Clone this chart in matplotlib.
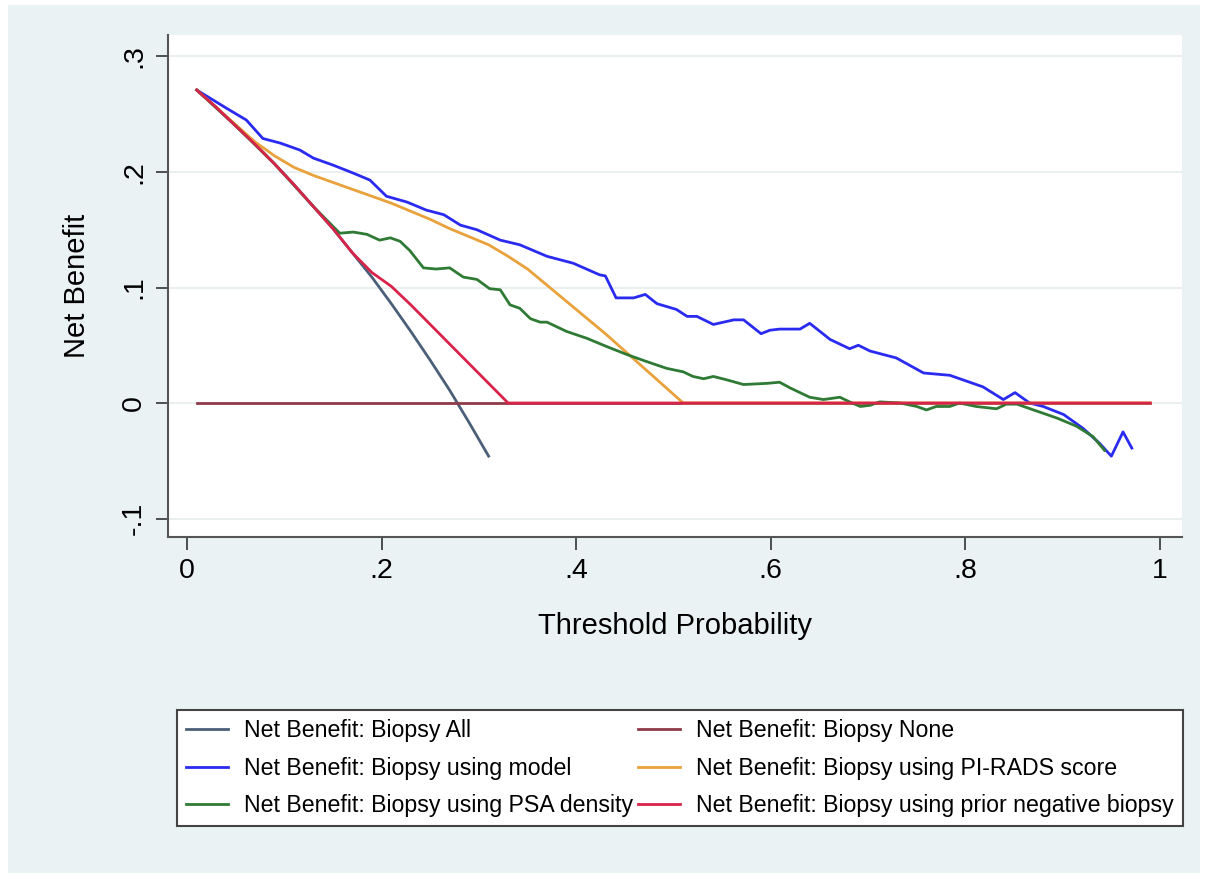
import matplotlib
matplotlib.use('Agg')
import matplotlib.pyplot as plt
from matplotlib.patches import Rectangle

matplotlib.rcParams.update({'font.family': 'Liberation Sans', 'font.size': 20.5})

# threshold probability / net benefit values
t_all = [0.01, 0.03, 0.05, 0.07, 0.09, 0.11, 0.13, 0.15, 0.17, 0.19, 0.21, 0.23, 0.25, 0.27, 0.29, 0.31]
nb_all = [0.271, 0.256, 0.240, 0.224, 0.207, 0.189, 0.170, 0.151, 0.130, 0.109, 0.086, 0.062, 0.037, 0.011, -0.017, -0.046]

t_none = [0.01, 0.99]
nb_none = [0.0, 0.0]

t_model = [0.01, 0.041, 0.061, 0.078, 0.096, 0.116, 0.130, 0.150, 0.171, 0.188, 0.205, 0.226, 0.246,
           0.264, 0.281, 0.298, 0.322, 0.342, 0.370, 0.397, 0.424, 0.430, 0.441, 0.459, 0.471, 0.483,
           0.503, 0.514, 0.524, 0.541, 0.562, 0.572, 0.590, 0.599, 0.609, 0.630, 0.640, 0.661, 0.681,
           0.690, 0.702, 0.729, 0.757, 0.784, 0.818, 0.839, 0.851, 0.866, 0.880, 0.901, 0.921, 0.938,
           0.950, 0.962, 0.971]
nb_model = [0.271, 0.255, 0.245, 0.229, 0.225, 0.219, 0.212, 0.206, 0.199, 0.193, 0.179, 0.174, 0.167,
            0.163, 0.154, 0.150, 0.141, 0.137, 0.127, 0.121, 0.111, 0.110, 0.091, 0.091, 0.094, 0.086,
            0.081, 0.075, 0.075, 0.068, 0.072, 0.072, 0.060, 0.063, 0.064, 0.064, 0.069, 0.055, 0.047,
            0.050, 0.045, 0.039, 0.026, 0.024, 0.014, 0.003, 0.009, 0.000, -0.003, -0.010, -0.022, -0.035,
            -0.046, -0.025, -0.039]

t_pirads = [0.01, 0.03, 0.05, 0.07, 0.09, 0.11, 0.13, 0.15, 0.17, 0.19, 0.21, 0.23, 0.25, 0.27, 0.29,
            0.31, 0.33, 0.35, 0.37, 0.39, 0.41, 0.43, 0.45, 0.47, 0.49, 0.51, 0.99]
nb_pirads = [0.271, 0.256, 0.241, 0.226, 0.214, 0.204, 0.197, 0.191, 0.185, 0.179, 0.173, 0.166, 0.159,
             0.151, 0.144, 0.137, 0.127, 0.116, 0.102, 0.088, 0.074, 0.060, 0.045, 0.030, 0.015, 0.0, 0.0]

t_psad = [0.01, 0.05, 0.09, 0.13, 0.157, 0.171, 0.185, 0.198, 0.209, 0.219, 0.229, 0.243, 0.256, 0.270,
          0.284, 0.298, 0.311, 0.322, 0.332, 0.342, 0.353, 0.363, 0.370, 0.390, 0.411, 0.431, 0.452,
          0.472, 0.493, 0.510, 0.520, 0.531, 0.541, 0.555, 0.572, 0.596, 0.609, 0.620, 0.640, 0.654,
          0.671, 0.681, 0.692, 0.702, 0.712, 0.733, 0.750, 0.760, 0.770, 0.784, 0.794, 0.811, 0.832,
          0.842, 0.853, 0.870, 0.894, 0.914, 0.931, 0.943]
nb_psad = [0.271, 0.240, 0.207, 0.170, 0.147, 0.148, 0.146, 0.141, 0.143, 0.140, 0.132, 0.117, 0.116,
           0.117, 0.109, 0.107, 0.099, 0.098, 0.085, 0.082, 0.073, 0.070, 0.070, 0.062, 0.056, 0.049,
           0.042, 0.036, 0.030, 0.027, 0.023, 0.021, 0.023, 0.020, 0.016, 0.017, 0.018, 0.013, 0.005,
           0.003, 0.005, 0.001, -0.003, -0.002, 0.001, 0.000, -0.003, -0.006, -0.003, -0.003, 0.000,
           -0.003, -0.005, -0.001, -0.001, -0.006, -0.013, -0.020, -0.029, -0.041]

t_prior = [0.01, 0.03, 0.05, 0.07, 0.09, 0.11, 0.13, 0.15, 0.17, 0.19, 0.21, 0.23, 0.25, 0.27, 0.29,
           0.31, 0.33, 0.99]
nb_prior = [0.271, 0.256, 0.240, 0.224, 0.207, 0.189, 0.170, 0.151, 0.130, 0.113, 0.101, 0.085, 0.068,
            0.051, 0.034, 0.017, 0.0, 0.0]

labels = ['Net Benefit: Biopsy All', 'Net Benefit: Biopsy None', 'Net Benefit: Biopsy using model',
          'Net Benefit: Biopsy using PI-RADS score', 'Net Benefit: Biopsy using PSA density',
          'Net Benefit: Biopsy using prior negative biopsy']
colors = ['#4b5f78', '#8e3a48', '#2a2af0', '#e9a23b', '#2f7a34', '#d8234a']

x_ticks = [0, 0.2, 0.4, 0.6, 0.8, 1.0]
x_ticklabels = ['0', '.2', '.4', '.6', '.8', '1']
y_ticks = [-0.1, 0, 0.1, 0.2, 0.3]
y_ticklabels = ['-.1', '0', '.1', '.2', '.3']

fig = plt.figure(figsize=(12.1, 8.74), dpi=100, facecolor='w')
# stata style graph region
fig.patches.append(Rectangle((8 / 1210, 1 / 874), 1192 / 1210, 868 / 874, transform=fig.transFigure,
                             facecolor='#eaf2f3', edgecolor='none', zorder=-10))
ax = fig.add_axes([168 / 1210, 1 - 537 / 874, 1014 / 1210, 502 / 874])
ax.set_facecolor('w')

series = [(t_all, nb_all), (t_none, nb_none), (t_model, nb_model),
          (t_pirads, nb_pirads), (t_psad, nb_psad), (t_prior, nb_prior)]
handles = []
for (xs, ys), lab, col in zip(series, labels, colors):
    h, = ax.plot(xs, ys, color=col, lw=2, label=lab, solid_joinstyle='round')
    handles.append(h)

ax.set_xlim(-0.0195, 1.0226)
ax.set_ylim(-0.116, 0.3186)
ax.set_xticks(x_ticks)
ax.set_xticklabels(x_ticklabels)
ax.set_yticks(y_ticks)
ax.set_yticklabels(y_ticklabels, rotation=90, va='center')
ax.tick_params(direction='out', length=9, width=1.2, color='#333333', pad=6)
ax.grid(True, axis='y', color='#e6ecee', lw=1.2)
ax.set_axisbelow(True)
for s in ['top', 'right']:
    ax.spines[s].set_visible(False)
for s in ['left', 'bottom']:
    ax.spines[s].set_color('#555555')
    ax.spines[s].set_linewidth(1.5)

ax.set_xlabel('Threshold Probability', labelpad=20, fontsize=21)
ax.set_ylabel('Net Benefit', labelpad=22, fontsize=21)

order = [0, 2, 4, 1, 3, 5]
leg = fig.legend([handles[i] for i in order], [labels[i] for i in order], ncol=2,
                 loc='upper left', bbox_to_anchor=(177 / 1210, 1 - 710 / 874), fontsize=16.7,
                 frameon=True, fancybox=False, framealpha=1, edgecolor='#444444', handlelength=1.8,
                 handletextpad=0.7, columnspacing=0.2, labelspacing=0.62, borderpad=0.4,
                 borderaxespad=0)
leg.get_frame().set_linewidth(1.5)

plt.savefig('out.png', dpi=100, facecolor='w')
